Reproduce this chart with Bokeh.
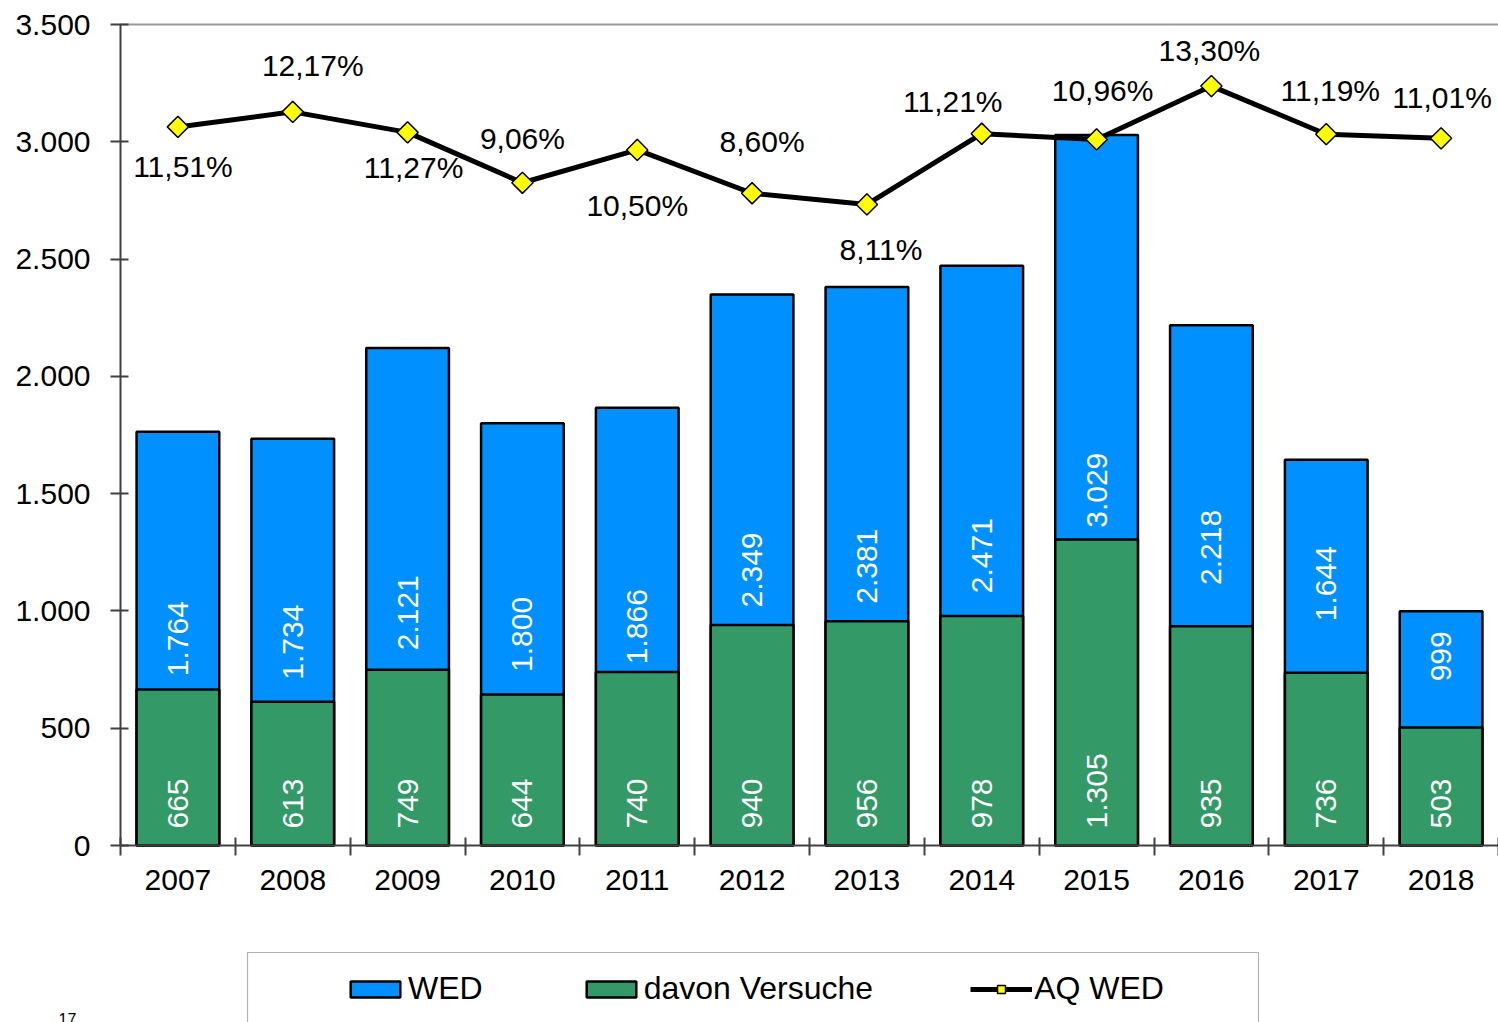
import math
from bokeh.plotting import figure
from bokeh.models import (ColumnDataSource, Range1d, FixedTicker, Legend, LegendItem,
                          BoxAnnotation, Label, LinearAxis)
from bokeh.core.properties import value
from bokeh.embed import file_html
from bokeh.resources import INLINE

# ---- data ----
years = ["2007", "2008", "2009", "2010", "2011", "2012",
         "2013", "2014", "2015", "2016", "2017", "2018"]
wed = [1764, 1734, 2121, 1800, 1866, 2349, 2381, 2471, 3029, 2218, 1644, 999]
versuche = [665, 613, 749, 644, 740, 940, 956, 978, 1305, 935, 736, 503]
aq_wed = [11.51, 12.17, 11.27, 9.06, 10.50, 8.60, 8.11, 11.21, 10.96, 13.30, 11.19, 11.01]
y_ticks = [0, 500, 1000, 1500, 2000, 2500, 3000, 3500]
y_tick_labels = ["0", "500", "1.000", "1.500", "2.000", "2.500", "3.000", "3.500"]
pct_axis = (-20, 16)   # hidden secondary axis for AQ WED (%)

# label placement (pixel offsets, style only)
pct_dx = [5, 20, 6, 0, 0, 10, 14, -29, 6, -2, 4, 1]
pct_dy = [40, -46, 35, -44, 56, -52, 45, -32, -49, -36, -44, -41]
wed_lab_dy = [0, 0, 16, 0, 0, 0, 0, 0, 0, -38, -69, -72]

FONT = "Liberation Sans"
BLUE = "#0090FF"
GREEN = "#339966"
AX = "#404040"

# page geometry (pixels)
W, H = 1498, 1022
PLOT_L, PLOT_R, PLOT_T, PLOT_B = 120, 1498, 24, 845


def de_int(v):
    return f"{v:,}".replace(",", ".")


n = len(years)
xs = list(range(n))
src = ColumnDataSource(dict(
    x=xs,
    wed=wed,
    versuche=versuche,
    wed_mid=[v / 2 for v in wed],
    wed_lab=[de_int(v) for v in wed],
    wed_dy=wed_lab_dy,
    ver_lab=[de_int(v) for v in versuche],
    aq=aq_wed,
    aq_lab=[f"{v:.2f}".replace(".", ",") + "%" for v in aq_wed],
    dx=pct_dx,
    dy=pct_dy,
))

# the frame fills the whole canvas; axes are pinned with fixed_location
x0, x1 = -0.5, n - 0.5
ux = (x1 - x0) / (PLOT_R - PLOT_L)
y0, y1 = y_ticks[0], y_ticks[-1]
uy = (y1 - y0) / (PLOT_B - PLOT_T)
p0, p1 = pct_axis
up = (p1 - p0) / (PLOT_B - PLOT_T)

p = figure(width=W, height=H,
           x_range=Range1d(x0 - PLOT_L * ux, x1 + (W - PLOT_R) * ux),
           y_range=Range1d(y0 - (H - PLOT_B) * uy, y1 + PLOT_T * uy),
           x_axis_type=None, y_axis_type=None,
           output_backend="svg", toolbar_location=None,
           min_border_left=0, min_border_right=0, min_border_top=0, min_border_bottom=0)
p.extra_y_ranges = {"pct": Range1d(p0 - (H - PLOT_B) * up, p1 + PLOT_T * up)}
p.grid.visible = False
p.outline_line_color = None

# y axis
ya = LinearAxis(fixed_location=x0, bounds=(y0, y1), ticker=FixedTicker(ticks=y_ticks))
ya.major_label_overrides = {t: l for t, l in zip(y_ticks, y_tick_labels)}
ya.axis_line_color = AX
ya.axis_line_width = 2
ya.major_tick_line_color = AX
ya.major_tick_line_width = 2
ya.major_tick_in = 8
ya.major_tick_out = 10
ya.minor_tick_line_color = None
ya.major_label_standoff = 20
ya.major_label_text_font = FONT
ya.major_label_text_font_size = "30px"
ya.major_label_text_color = "black"
p.add_layout(ya, "left")

# x axis: labels at category centres, tick marks between categories
xa = LinearAxis(fixed_location=y0, bounds=(x0, x1),
                ticker=FixedTicker(ticks=xs, minor_ticks=[i - 0.5 for i in range(n + 1)]))
xa.major_label_overrides = {x: y for x, y in zip(xs, years)}
xa.axis_line_color = AX
xa.axis_line_width = 2
xa.major_tick_line_color = None
xa.minor_tick_line_color = AX
xa.minor_tick_line_width = 2
xa.minor_tick_in = 8
xa.minor_tick_out = 10
xa.major_label_standoff = 14
xa.major_label_text_font = FONT
xa.major_label_text_font_size = "30px"
xa.major_label_text_color = "black"
p.add_layout(xa, "below")

# gray top border of the plot area
ta = LinearAxis(fixed_location=y1, bounds=(x0, x1), ticker=FixedTicker(ticks=[]))
ta.axis_line_color = "#999999"
ta.axis_line_width = 2
ta.major_tick_line_color = None
ta.minor_tick_line_color = None
ta.major_label_text_font_size = "0px"
p.add_layout(ta, "above")

bw = 0.72
r_wed = p.vbar(x="x", top="wed", width=bw, fill_color=BLUE, line_color="black",
               line_width=2.5, source=src)
r_ver = p.vbar(x="x", top="versuche", width=bw, fill_color=GREEN, line_color="black",
               line_width=2.5, source=src)

p.text(x="x", y="wed_mid", text="wed_lab", angle=math.pi / 2, y_offset="wed_dy",
       text_align="center", text_baseline="middle", text_color="white",
       text_font=value(FONT), text_font_size="30px", source=src)
p.text(x="x", y=y0, text="ver_lab", angle=math.pi / 2, text_align="left",
       text_baseline="middle", text_color="white", text_font=value(FONT),
       text_font_size="30px", y_offset=-17, source=src)

r_line = p.line(x="x", y="aq", y_range_name="pct", line_color="black", line_width=5,
                source=src)
r_mark = p.scatter(x="x", y="aq", y_range_name="pct", marker="square", angle=math.pi / 4,
                   size=15, fill_color="#FFFF00", line_color="black", line_width=1.5,
                   source=src)
p.text(x="x", y="aq", y_range_name="pct", text="aq_lab", x_offset="dx", y_offset="dy",
       text_align="center", text_baseline="middle", text_color="black",
       text_font=value(FONT), text_font_size="30px", source=src)

# legend frame (partly cut off by the page bottom, as in the original)
p.add_layout(BoxAnnotation(left=247, right=1258, top=952, bottom=1100,
                           left_units="canvas", right_units="canvas",
                           top_units="canvas", bottom_units="canvas",
                           fill_color=None, fill_alpha=0, line_color="black",
                           line_width=1.2))

legend = Legend(items=[LegendItem(label="WED", renderers=[r_wed]),
                       LegendItem(label="davon Versuche", renderers=[r_ver]),
                       LegendItem(label="AQ WED", renderers=[r_line, r_mark])],
                orientation="horizontal", location=(344, 15), padding=0, spacing=97,
                glyph_width=62, glyph_height=20, label_standoff=2,
                label_text_font=FONT, label_text_font_size="32px",
                label_text_color="black",
                border_line_color=None, background_fill_alpha=0, margin=0)
p.add_layout(legend, "center")

p.add_layout(Label(x=58, y=H - 1012, x_units="screen", y_units="screen", text="17",
                   text_font=FONT, text_font_size="16px", text_color="black",
                   text_baseline="top"))

open("out.html", "w").write(file_html(p, INLINE))
